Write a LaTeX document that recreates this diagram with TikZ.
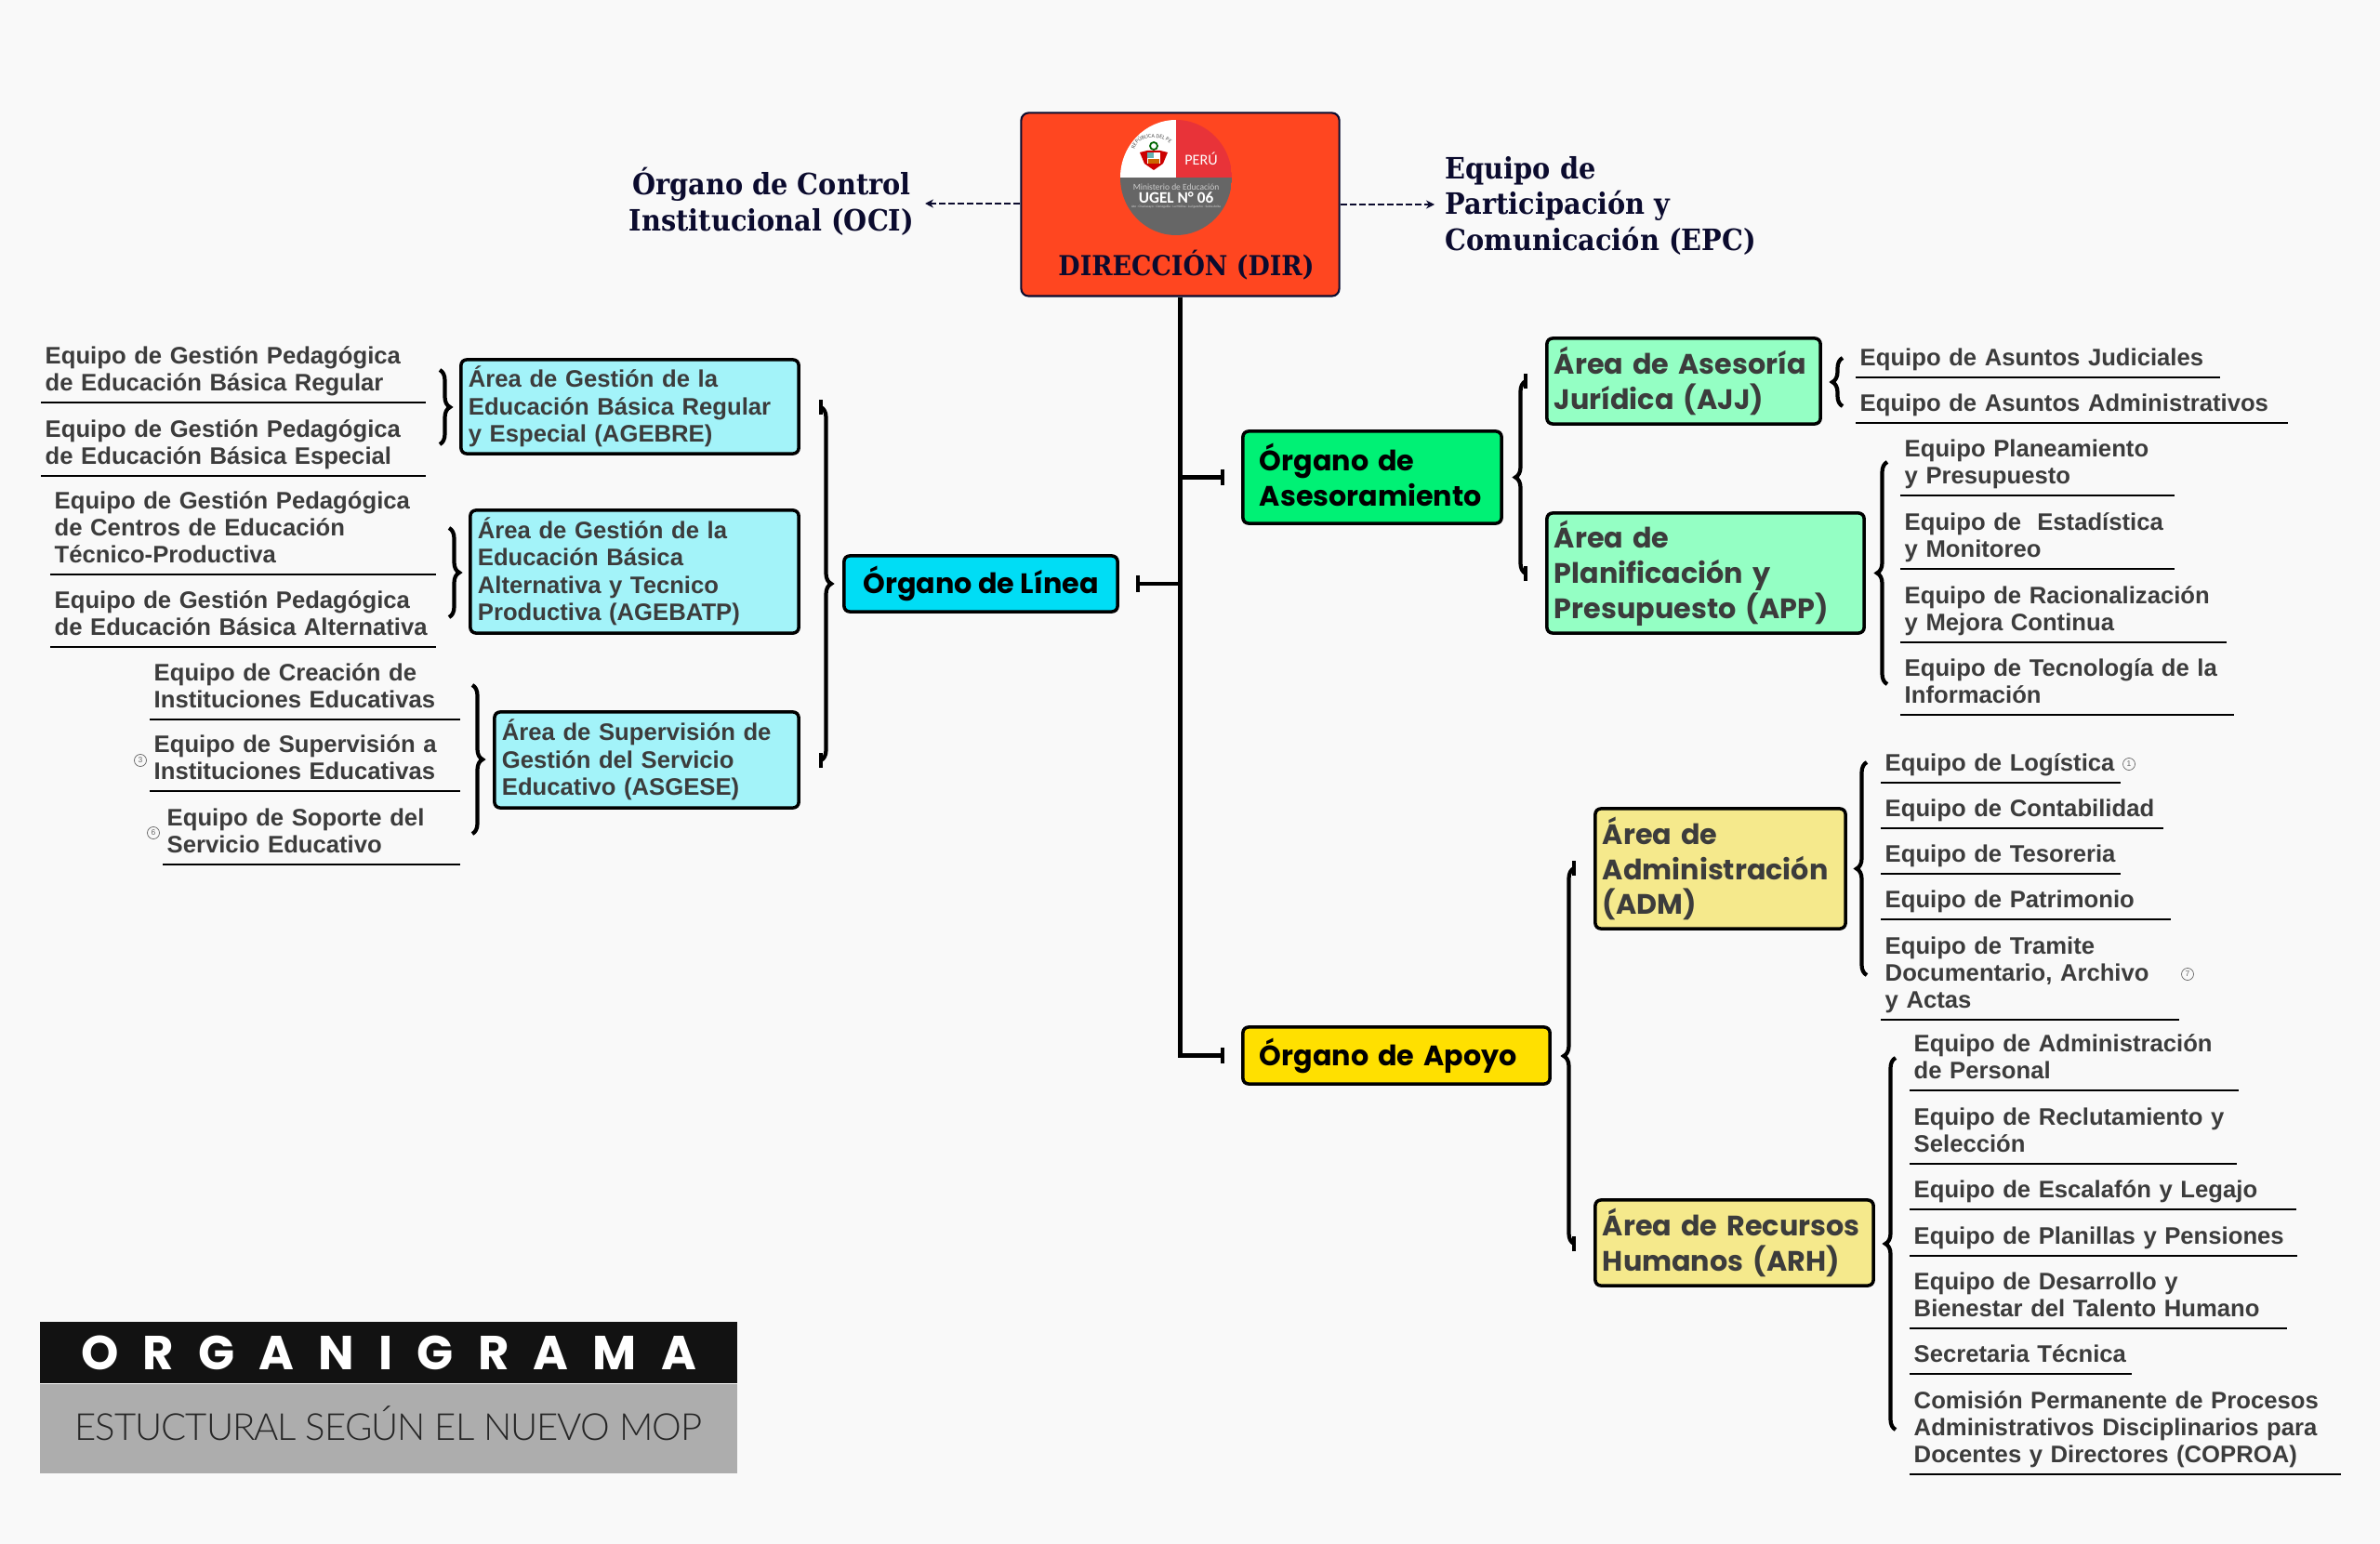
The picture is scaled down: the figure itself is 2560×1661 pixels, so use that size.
\documentclass[tikz,border=0pt]{standalone}
\usepackage{fontspec}
\usepackage{tikz}
\usetikzlibrary{arrows.meta,decorations.pathreplacing,decorations.text}
\setmainfont{Liberation Sans}
\newfontfamily\slabfont[FakeStretch=0.91]{DejaVu Serif}
\newfontfamily\headfont{Poppins}
\newfontfamily\logofont{Carlito}
\newfontfamily\bannerfont[LetterSpace=51]{Poppins}
\newfontfamily\bannerthin[LetterSpace=-2.5]{Lato Light}
\definecolor{paper}{HTML}{F9F9F9}
\definecolor{navy}{HTML}{0B0B2E}
\definecolor{dirred}{HTML}{FF4620}
\definecolor{logored}{HTML}{E83339}
\definecolor{ink}{HTML}{3C3C3C}
\definecolor{lineacol}{HTML}{00DDF5}
\definecolor{areablue}{HTML}{A3F3F9}
\definecolor{asesorcol}{HTML}{00F175}
\definecolor{areagreen}{HTML}{94FFC4}
\definecolor{apoyocol}{HTML}{FFE000}
\definecolor{areayellow}{HTML}{F5E98C}
\tikzset{
    box/.style={draw=black, line width=1pt, rounded corners=0.06cm, inner sep=0pt, align=left},
    headbox/.style={box, font=\headfont\bfseries\fontsize{8.6}{10.75}\selectfont},
    areaside/.style={box, font=\bfseries\fontsize{7.3}{8.37}\selectfont, text=ink},
    team/.style={anchor=south west, inner xsep=0.04cm, inner ysep=0.025cm, align=left, text=ink,
        font=\bfseries\fontsize{7.3}{8.37}\selectfont, execute at end node=\strut},
    slab/.style={font=\slabfont\bfseries\fontsize{9}{10.95}\selectfont, text=navy, inner sep=0pt, align=left},
    rule/.style={line width=0.75pt, black},
    stem/.style={line width=1.3pt, -{Bar[width=0.17cm,length=0pt]}, shorten >=0.18cm},
    dashlink/.style={line width=0.5pt, dash pattern=on 0.07cm off 0.03cm, navy, -{Stealth[length=0.09cm,width=0.09cm]}},
    bracer/.style={line width=1.2pt, decorate, decoration={brace, amplitude=0.11cm}},
    bracel/.style={line width=1.2pt, decorate, decoration={brace, amplitude=0.11cm, mirror}},
    circnum/.style={draw=black!60, line width=0.2pt, circle, minimum size=0.13cm, inner sep=0pt, text=black!60, font=\fontsize{2.4}{3}\selectfont},
    logotext/.style={inner sep=0pt, font=\logofont}
}
\begin{document}
\begin{tikzpicture}[x=0.01cm, y=-0.01cm]
    \useasboundingbox (0,0) rectangle (2560,1661);
    \fill[paper] (0,0) rectangle (2560,1661);

    % direccion
    \node[draw=navy, line width=0.6pt, fill=dirred, rounded corners=0.08cm, minimum width=3.42cm, minimum height=1.97cm] (dir) at (1269.5,220) {};
    \begin{scope}
        \clip (1265,191) circle [x radius=60, y radius=62];
        \fill[white] (1205,129) rectangle (1265,191);
        \fill[logored] (1265,129) rectangle (1325,191);
        \fill[black!60] (1205,191) rectangle (1325,253);
    \end{scope}
    \fill[red!80!black] (1226,164) -- (1234,162) -- (1248,162) -- (1256,164) -- (1251,176) -- (1241,183) -- (1231,176) -- cycle;
    \fill[white] (1234,164) rectangle (1248,176);
    \fill[teal!60] (1234,164) rectangle (1241,170);
    \fill[orange!80!black] (1235,171) rectangle (1247,176);
    \draw[green!40!black, line width=0.5pt] (1241,157) circle (4);
    \path[decorate, decoration={text along path, text align=center, text={|\logofont\fontsize{1.7}{2}\selectfont\color{black!70}|REPÚBLICA DEL PERÚ}}]
        (1224,154) .. controls (1232,146) and (1250,146) .. (1258,154);
    \node[logotext, text=white, font=\logofont\fontsize{4.6}{6}\selectfont] (logoperu) at (1292,171) {PERÚ};
    \node[logotext, text=black!20, font=\logofont\fontsize{2.7}{4}\selectfont] (logomin) at (1265,201) {Ministerio de Educación};
    \node[logotext, text=white, font=\logofont\bfseries\fontsize{4.9}{6}\selectfont] (logougel) at (1265,213) {UGEL N° 06};
    \node[logotext, text=black!15, font=\logofont\fontsize{1}{2}\selectfont] (logodist) at (1265,223) {Ate - Chaclacayo - Cieneguilla - La Molina - Lurigancho - Santa Anita};
    \node[slab, font=\slabfont\bfseries\fontsize{8.4}{10}\selectfont] (dirlabel) at (1276,285) {DIRECCIÓN (DIR)};

    \node[slab, align=center] (oci) at (830,217) {Órgano de Control\\Institucional (OCI)};
    \node[slab, anchor=west] (epc) at (1554,221) {Equipo de\\Participación y\\Comunicación (EPC)};
    \coordinate (ociend) at (995,219);
    \coordinate (epcend) at (1543,220);
    \draw[dashlink] (dir.west |- ociend) -- (ociend);
    \draw[dashlink] (dir.east |- epcend) -- (epcend);

    % organos
    \node[headbox, fill=lineacol, minimum width=2.94cm, minimum height=0.6cm] (linea) at (1055,628) {Órgano de Línea};
    \node[headbox, fill=asesorcol, minimum width=2.78cm, minimum height=0.99cm, text width=2.42cm] (asesor) at (1476,513.5) {Órgano de\\Asesoramiento\rule[-0.06cm]{0pt}{0pt}};
    \node[headbox, fill=apoyocol, minimum width=3.30cm, minimum height=0.61cm, text width=2.94cm] (apoyo) at (1502,1135.5) {Órgano de Apoyo};
    \draw[stem] (dir.south) |- (linea.east);
    \draw[stem] (dir.south) |- (asesor.west);
    \draw[stem] (dir.south) |- (apoyo.west);

    % areas
    \node[areaside, fill=areablue, minimum width=3.63cm, minimum height=1.01cm, text width=3.47cm] (agebre) at (677.5,437.5) {Área de Gestión de la\\Educación Básica Regular\\y Especial (AGEBRE)};
    \node[areaside, fill=areablue, minimum width=3.53cm, minimum height=1.32cm, text width=3.37cm] (agebatp) at (682.5,615) {Área de Gestión de la\\Educación Básica\\Alternativa y Tecnico\\Productiva (AGEBATP)};
    \node[areaside, fill=areablue, minimum width=3.27cm, minimum height=1.03cm, text width=3.11cm] (asgese) at (695.5,817.5) {Área de Supervisión de\\Gestión del Servicio\\Educativo (ASGESE)};
    \node[headbox, text=ink, fill=areagreen, minimum width=2.94cm, minimum height=0.92cm, text width=2.78cm] (ajj) at (1811,410) {Área de Asesoría\\Jurídica (AJJ)};
    \node[headbox, text=ink, fill=areagreen, minimum width=3.41cm, minimum height=1.29cm, text width=3.25cm] (app) at (1834.5,616.5) {Área de\\Planificación y\\Presupuesto (APP)};
    \node[headbox, text=ink, fill=areayellow, minimum width=2.69cm, minimum height=1.29cm, text width=2.53cm] (adm) at (1850.5,934.5) {Área de\\Administración\\(ADM)};
    \node[headbox, text=ink, fill=areayellow, minimum width=2.99cm, minimum height=0.92cm, text width=2.83cm] (arh) at (1865.5,1337) {Área de Recursos\\Humanos (ARH)};

    % equipos
    \foreach \nm/\x/\y/\w/\txt in {
        ga/44/433/413/{Equipo de Gestión Pedagógica\\de Educación Básica Regular},
        gb/44/512/413/{Equipo de Gestión Pedagógica\\de Educación Básica Especial},
        gc/54/618/414/{Equipo de Gestión Pedagógica\\de Centros de Educación\\Técnico-Productiva},
        gd/54/696/414/{Equipo de Gestión Pedagógica\\de Educación Básica Alternativa},
        ge/161/774/333/{Equipo de Creación de\\Instituciones Educativas},
        gf/161/851/333/{Equipo de Supervisión a\\Instituciones Educativas},
        gg/175/930/319/{Equipo de Soporte del\\Servicio Educativo},
        ja/1996/406/391/{Equipo de Asuntos Judiciales},
        jb/1996/455/464/{Equipo de Asuntos Administrativos},
        pa/2044/533/294/{Equipo Planeamiento\\y Presupuesto},
        pb/2044/612/294/{Equipo de\ \ Estadística\\y Monitoreo},
        pc/2044/691/350/{Equipo de Racionalización\\y Mejora Continua},
        pd/2044/769/358/{Equipo de Tecnología de la\\Información},
        aa/2023/842/257/{Equipo de Logística},
        ab/2023/891/303/{Equipo de Contabilidad},
        ac/2023/940/257/{Equipo de Tesoreria},
        ad/2023/989/311/{Equipo de Patrimonio},
        ae/2023/1097/320/{Equipo de Tramite\\Documentario, Archivo\\y Actas},
        ra/2054/1173/353/{Equipo de Administración\\de Personal},
        rb/2054/1252/351/{Equipo de Reclutamiento y\\Selección},
        rc/2054/1301/415/{Equipo de Escalafón y Legajo},
        rd/2054/1351/416/{Equipo de Planillas y Pensiones},
        re/2054/1429/405/{Equipo de Desarrollo y\\Bienestar del Talento Humano},
        rf/2054/1478/238/{Secretaria Técnica},
        rg/2054/1586/463/{Comisión Permanente de Procesos\\Administrativos Disciplinarios para\\Docentes y Directores (COPROA)}}
    {
        \node[team, text width={(\w-8)*0.01cm}] (\nm) at (\x,\y) {\txt};
        \draw[rule] (\nm.south west) -- (\nm.south east);
    }

    \node[circnum] (numtres) at (151,818) {3};
    \node[circnum] (numseis) at (165,896) {6};
    \node[circnum] (numuno) at (2290,822) {1};
    \node[circnum] (numsiete) at (2353,1048) {7};

    % llaves de equipos
    \foreach \nm/\x/\ya/\yb/\sty in {
        lga/473/398/478/bracer, lgb/483/568/664/bracer, lgc/508/737/897/bracer,
        lja/1982/385/437/bracel, ljb/2030/497/736/bracel,
        lad/2008/820/1049/bracel, lar/2039/1138/1538/bracel}
    {
        \coordinate (\nm t) at (\x,\ya);
        \coordinate (\nm b) at (\x,\yb);
        \draw[\sty] (\nm t) -- (\nm b);
    }

    % llaves de organos
    \foreach \nm/\x/\ya/\yb/\sty in {
        lli/883/438/818/bracer, las/1641/410/617/bracel, lap/1693/934/1338/bracel}
    {
        \coordinate (\nm t) at (\x,\ya);
        \coordinate (\nm b) at (\x,\yb);
        \draw[\sty] (\nm t) -- (\nm b);
        \draw[line width=1.2pt] ([yshift=-0.08cm]\nm t) -- ([yshift=0.08cm]\nm t);
        \draw[line width=1.2pt] ([yshift=-0.08cm]\nm b) -- ([yshift=0.08cm]\nm b);
    }

    % titulo
    \node[fill=black!93, minimum width=7.5cm, minimum height=0.66cm, inner sep=0pt, text=white, font=\bannerfont\bfseries\fontsize{14.6}{16}\selectfont] (titulo) at (418,1455) {ORGANIGRAMA};
    \node[fill=black!32, minimum width=7.5cm, minimum height=0.96cm, inner sep=0pt, anchor=north] (subtitulo) at (titulo.south) {};
    \node[inner sep=0pt, text=black!85, font=\bannerthin\fontsize{11.4}{13}\selectfont] (subtexto) at (418,1531) {ESTUCTURAL SEGÚN EL NUEVO MOP};
\end{tikzpicture}
\end{document}
